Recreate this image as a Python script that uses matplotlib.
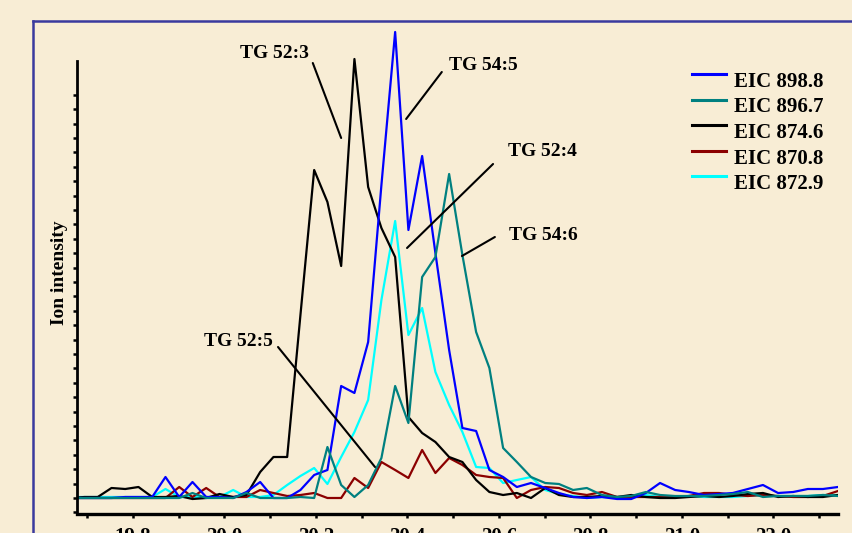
import matplotlib
matplotlib.use("Agg")
import matplotlib.pyplot as plt
from matplotlib.lines import Line2D
from matplotlib.ticker import MultipleLocator

plt.rcParams['font.family'] = ['Liberation Serif', 'DejaVu Serif']
plt.rcParams['font.weight'] = 'bold'

# retention time (min) of each scan
rt = [19.664, 19.694, 19.723, 19.753, 19.783, 19.812, 19.842, 19.871, 19.901, 19.930,
      19.960, 19.989, 20.019, 20.048, 20.078, 20.107, 20.137, 20.166, 20.196, 20.225,
      20.255, 20.284, 20.314, 20.343, 20.373, 20.402, 20.432, 20.461, 20.491, 20.520,
      20.550, 20.579, 20.609, 20.639, 20.670, 20.701, 20.731, 20.762, 20.792, 20.825,
      20.858, 20.889, 20.921, 20.952, 20.985, 21.015, 21.048, 21.081, 21.111, 21.144,
      21.177, 21.210, 21.243, 21.275, 21.308, 21.341]

# extracted ion chromatograms (arbitrary units)
eic_898_8 = [0, 0, 0, 0, 1, 1, 1, 21, 1, 16, 1, 1, 0, 6, 16, 0, 0, 8, 23, 28,
             112, 105, 156, 313, 466, 268, 342, 245, 148, 70, 67, 28, 21, 11, 15, 10, 5, 1, 0, 1,
             -1, -1, 5, 15, 8, 6, 3, 4, 5, 9, 13, 5, 6, 9, 9, 11]
eic_896_7 = [0, 0, 0, 0, 0, 0, 0, 0, 0, 5, 0, 0, 0, 5, 0, 0, 0, 1, 0, 51,
             13, 1, 13, 40, 112, 75, 221, 241, 324, 243, 166, 130, 50, 36, 21, 15, 14, 8, 10, 3,
             1, 2, 6, 3, 2, 2, 2, 3, 4, 6, 1, 2, 2, 2, 3, 2]
eic_874_6 = [0, 1, 1, 10, 9, 11, 1, 1, 2, -1, 0, 4, 1, 3, 26, 41, 41, 183, 328, 296,
             232, 439, 311, 270, 241, 81, 65, 56, 41, 36, 18, 6, 3, 5, 0, 10, 3, 1, 1, 2,
             1, 3, 1, 0, 0, 1, 2, 1, 2, 4, 5, 1, 2, 1, 1, 3]
eic_870_8 = [0, 0, 0, 0, 0, 0, 0, 0, 11, 1, 10, 1, 1, 1, 8, 5, 2, 3, 5, 0,
             0, 20, 10, 36, 28, 20, 48, 25, 40, 33, 23, 21, 20, 0, 8, 11, 10, 5, 3, 6,
             1, 1, 1, 1, 1, 2, 5, 5, 3, 2, 3, 2, 1, 1, 2, 7]
eic_872_9 = [1, 1, 1, 1, 1, 1, 1, 9, 1, 1, 1, 1, 8, 1, 1, 3, 13, 22, 30, 14,
             41, 66, 98, 198, 277, 163, 190, 126, 93, 66, 31, 30, 15, 18, 21, 8, 4, 2, 0, 1,
             0, 1, 3, 1, 1, 2, 1, 1, 1, 2, 3, 2, 2, 2, 3, 3]

series = [
    ("EIC 898.8", eic_898_8, "#0000ff"),
    ("EIC 896.7", eic_896_7, "#008080"),
    ("EIC 874.6", eic_874_6, "#000000"),
    ("EIC 870.8", eic_870_8, "#8b0000"),
    ("EIC 872.9", eic_872_9, "#00ffff"),
]
draw_order = [4, 3, 2, 0, 1]

tick_pos = [19.8, 20.0, 20.2, 20.4, 20.6, 20.8, 21.0, 21.2]
tick_labels = ["19.8", "20.0", "20.2", "20.4", "20.6", "20.8", "21.0", "22.0"]

# species labels: text, text centre, leader start, leader end
peak_labels = [
    ("TG 52:3", (20.110, 445), (20.193, 435), (20.255, 360)),
    ("TG 54:5", (20.565, 433), (20.475, 426), (20.397, 379)),
    ("TG 52:4", (20.694, 346), (20.587, 334), (20.399, 250)),
    ("TG 54:6", (20.698, 262), (20.591, 261), (20.519, 242)),
    ("TG 52:5", (20.030, 157), (20.117, 151), (20.329, 31)),
]

BG = "#f8edd5"
W, H = 852, 533

fig = plt.figure(figsize=(W / 100, H / 100), dpi=100, facecolor=BG)
ax = fig.add_axes([77 / W, (H - 514) / H, 761 / W, (514 - 25) / H])
ax.set_facecolor("none")

for k in draw_order:
    name, vals, col = series[k]
    ax.plot(rt, vals, color=col, lw=1.6)

ax.set_xlim(19.6776, 21.341)
ax.set_ylim(-16, 473)

for s in ["top", "right"]:
    ax.spines[s].set_visible(False)
ax.spines["bottom"].set_linewidth(2.4)
ax.spines["left"].set_linewidth(2.0)
ax.spines["left"].set_bounds(-16, 437)

ax.set_xticks(tick_pos)
ax.set_xticklabels(tick_labels, fontsize=15, fontweight="bold")
ax.xaxis.set_minor_locator(MultipleLocator(0.1))
ax.tick_params(axis="x", which="both", direction="out", length=3, width=1.8, pad=6)

ax.set_yticks([v * 14.4 for v in range(-1, 29)])
ax.set_yticklabels([])
ax.tick_params(axis="y", direction="out", length=3, width=1.8)

for text, (tx, ty), p0, p1 in peak_labels:
    ax.text(tx, ty, text, ha="center", va="center", fontsize=14, fontweight="bold")
    ax.annotate("", xy=p1, xytext=p0,
                arrowprops=dict(arrowstyle="-", color="black", lw=1.5,
                                shrinkA=0, shrinkB=0))

fig.text(60 / W, 1 - 273 / H, "Ion intensity", rotation=90, ha="center", va="center",
         fontsize=14, fontweight="bold")

# legend
for n, (name, vals, col) in enumerate(series):
    ly = 74 + n * 25.5
    fig.add_artist(Line2D([692 / W, 726 / W], [1 - ly / H, 1 - ly / H],
                          color=col, lw=2.2, transform=fig.transFigure))
    fig.text(734 / W, 1 - (ly + 8) / H, name, ha="left", va="center",
             fontsize=15, fontweight="bold")

# frame
fig.add_artist(Line2D([33 / W, 33 / W], [0, 1 - 21 / H], color="#3a3a9e", lw=1.8,
                      transform=fig.transFigure))
fig.add_artist(Line2D([33 / W, 1], [1 - 21 / H, 1 - 21 / H], color="#3a3a9e", lw=1.8,
                      transform=fig.transFigure))

fig.savefig("out.png", dpi=100, facecolor=BG)
